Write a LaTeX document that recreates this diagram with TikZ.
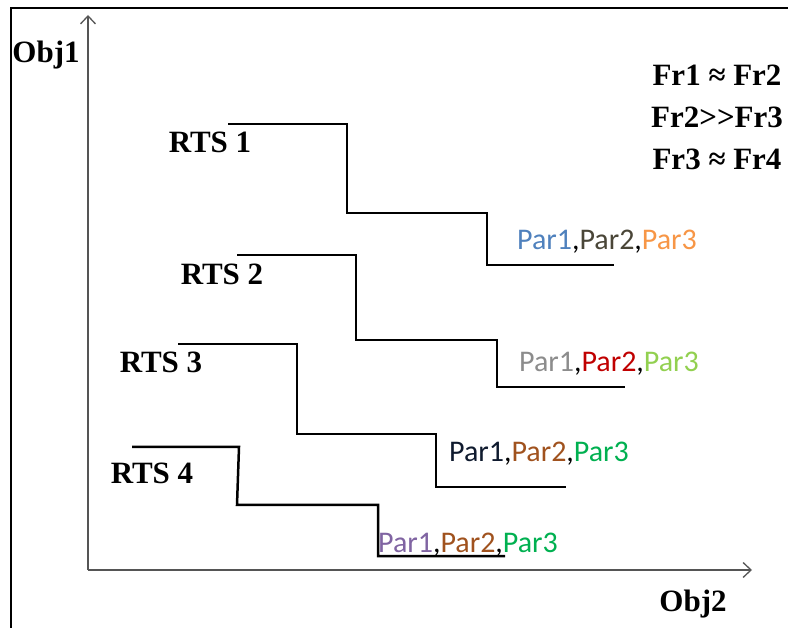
\documentclass[tikz,border=0pt]{standalone}
\usepackage{fontspec}
\setmainfont{Liberation Serif}
\newfontfamily\parfont{Carlito}
\usetikzlibrary{arrows.meta}
\definecolor{axisgray}{HTML}{555555}
\definecolor{pblue}{HTML}{4F81BD}
\definecolor{pdark}{HTML}{4A4638}
\definecolor{porange}{HTML}{F79646}
\definecolor{pgray}{HTML}{8C8C8C}
\definecolor{pred}{HTML}{C00000}
\definecolor{plgreen}{HTML}{92D050}
\definecolor{pnavy}{HTML}{0F1A2E}
\definecolor{pbrown}{HTML}{A0521E}
\definecolor{pgreen}{HTML}{00B050}
\definecolor{ppurple}{HTML}{8064A2}
\tikzset{
  frameline/.style={line width=2pt,black},
  axisline/.style={line width=1.3pt,axisgray,-{Straight Barb[length=8pt,width=15pt,line width=1.3pt]}},
  stair/.style={line width=2.5pt,black,line join=miter},
  boldlabel/.style={font=\fontsize{31}{36}\selectfont\bfseries,inner sep=0pt},
  parlabel/.style={font=\parfont\fontsize{30}{35}\selectfont,inner sep=0pt,anchor=base west},
}
\begin{document}
\begin{tikzpicture}[x=1pt,y=-1pt]
\useasboundingbox (0,0) rectangle (788,628);
% frame
\draw[frameline] (11,628) -- (11,8) -- (788,8);
% axes
\coordinate (o) at (88,570);
\coordinate (ytip) at (88,15);
\coordinate (xtip) at (752,570);
\draw[axisline] (o) -- (ytip);
\draw[axisline] (o) -- (xtip);
\node[boldlabel] (obj1) at (46,55) {Obj1};
\node[boldlabel] (obj2) at (693,604) {Obj2};
% frequency relations
\node[boldlabel] (fr12) at (717,75) {Fr1 ≈ Fr2};
\node[boldlabel] (fr23) at (717,117) {Fr2{>}{>}Fr3};
\node[boldlabel] (fr34) at (717,159) {Fr3 ≈ Fr4};
% staircases
\draw[stair] (228,124) -- (347,124) -- (347,213) -- (487,213) -- (487,265) -- (614,265);
\draw[stair] (237,255) -- (356,255) -- (356,340) -- (497,340) -- (497,387) -- (625,387);
\draw[stair] (178,344) -- (297,344) -- (297,434) -- (436,434) -- (436,487) -- (566,487);
\draw[stair] (132,447) -- (239,447) -- (237,505) -- (378,505) -- (378,556) -- (505,556);
% staircase labels
\node[boldlabel] (rts1) at (210,142) {RTS 1};
\node[boldlabel] (rts2) at (222,274) {RTS 2};
\node[boldlabel] (rts3) at (161,362) {RTS 3};
\node[boldlabel] (rts4) at (152,473) {RTS 4};
% parameter sets
\node[parlabel] (par1) at (517,250) {\textcolor{pblue}{Par1},\textcolor{pdark}{Par2},\textcolor{porange}{Par3}};
\node[parlabel] (par2) at (519,372) {\textcolor{pgray}{Par1},\textcolor{pred}{Par2},\textcolor{plgreen}{Par3}};
\node[parlabel] (par3) at (449,462) {\textcolor{pnavy}{Par1},\textcolor{pbrown}{Par2},\textcolor{pgreen}{Par3}};
\node[parlabel] (par4) at (378,552) {\textcolor{ppurple}{Par1},\textcolor{pbrown}{Par2},\textcolor{pgreen}{Par3}};
\end{tikzpicture}
\end{document}
